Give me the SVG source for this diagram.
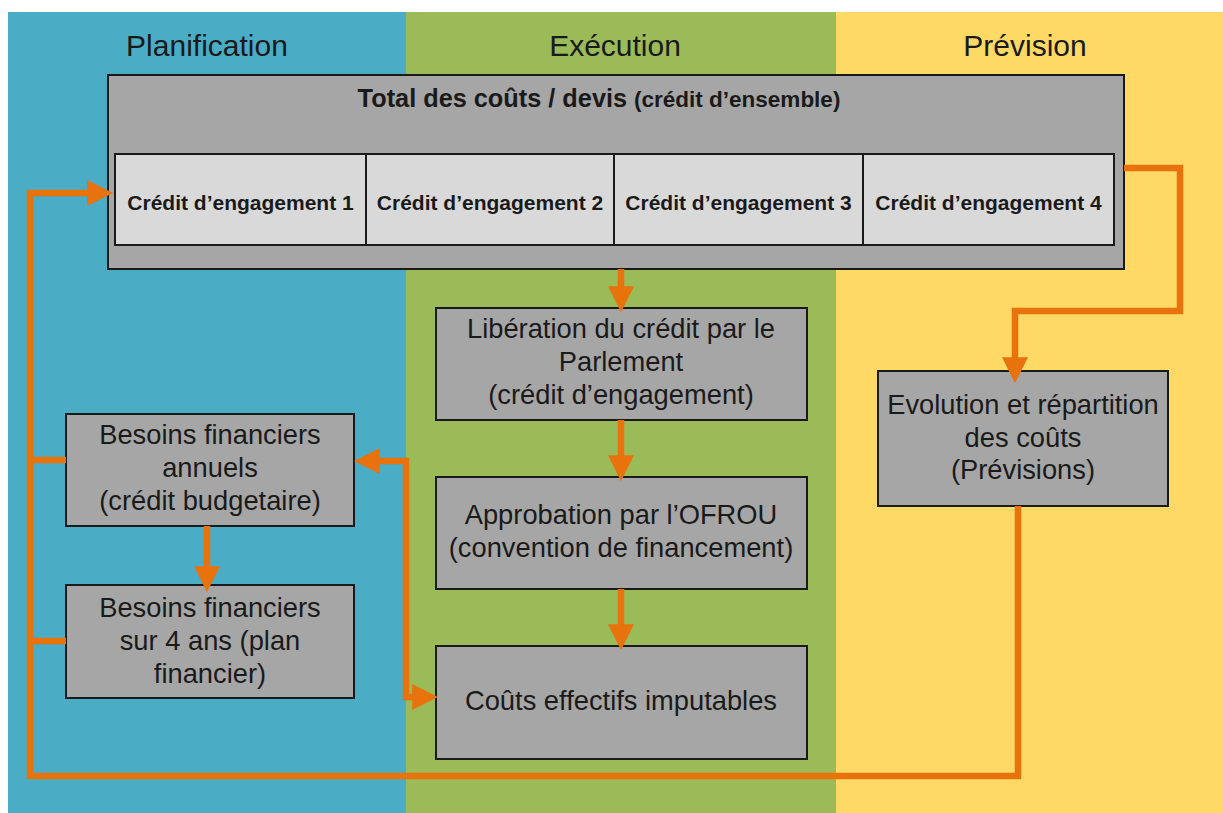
<svg xmlns="http://www.w3.org/2000/svg" width="1223" height="813" viewBox="0 0 1223 813">
<style>
text{font-family:"Liberation Sans",Arial,sans-serif;fill:#1a1a1a}
.h{font-size:30px;text-anchor:middle}
.box{fill:#a6a6a6;stroke:#1a1a1a;stroke-width:2}
.cell{fill:#d9d9d9;stroke:#1a1a1a;stroke-width:2}
.lbl{font-size:27.3px;text-anchor:middle}
.cl{font-size:21px;font-weight:bold;text-anchor:middle}
.con{fill:none;stroke:#e8720c;stroke-width:6.5;stroke-linejoin:miter}
</style>
<defs>
<marker id="ah" markerUnits="userSpaceOnUse" markerWidth="26" markerHeight="26" viewBox="0 0 24 24" refX="10" refY="12" orient="auto-start-reverse">
<path d="M0,0 L24,12 L0,24 z" fill="#e8720c"/>
</marker>
</defs>
<rect x="0" y="0" width="1223" height="813" fill="#ffffff"/>
<g id="lanes">
<rect x="8" y="12" width="398" height="801" fill="#4bacc6"/>
<rect x="406" y="12" width="430" height="801" fill="#9bbb59"/>
<rect x="836" y="12" width="387" height="801" fill="#ffd966"/>
<text class="h" x="207" y="56">Planification</text>
<text class="h" x="615" y="56">Exécution</text>
<text class="h" x="1025" y="56">Prévision</text>
</g>
<g id="total">
<rect class="box" x="108" y="75" width="1016" height="194"/>
<text x="599" y="107" style="font-weight:bold;text-anchor:middle"><tspan font-size="25.3">Total des coûts / devis </tspan><tspan font-size="22.5">(crédit d’ensemble)</tspan></text>
</g>
<g id="ce1"><rect class="cell" x="115" y="154" width="251" height="91"/><text class="cl" x="240.5" y="210">Crédit d’engagement 1</text></g>
<g id="ce2"><rect class="cell" x="366" y="154" width="248" height="91"/><text class="cl" x="490" y="210">Crédit d’engagement 2</text></g>
<g id="ce3"><rect class="cell" x="614" y="154" width="249" height="91"/><text class="cl" x="738.5" y="210">Crédit d’engagement 3</text></g>
<g id="ce4"><rect class="cell" x="863" y="154" width="251" height="91"/><text class="cl" x="988.5" y="210">Crédit d’engagement 4</text></g>
<g id="liberation">
<rect class="box" x="436" y="308" width="371" height="112"/>
<text class="lbl" x="621" y="338">Libération du crédit par le</text>
<text class="lbl" x="621" y="371">Parlement</text>
<text class="lbl" x="621" y="404">(crédit d’engagement)</text>
</g>
<g id="approbation">
<rect class="box" x="436" y="477" width="371" height="112"/>
<text class="lbl" x="621" y="524">Approbation par l’OFROU</text>
<text class="lbl" x="621" y="557">(convention de financement)</text>
</g>
<g id="couts">
<rect class="box" x="436" y="646" width="371" height="113"/>
<text class="lbl" x="621" y="710">Coûts effectifs imputables</text>
</g>
<g id="annuels">
<rect class="box" x="66" y="414" width="288" height="112"/>
<text class="lbl" x="210" y="444">Besoins financiers</text>
<text class="lbl" x="210" y="477">annuels</text>
<text class="lbl" x="210" y="510">(crédit budgetaire)</text>
</g>
<g id="quatreans">
<rect class="box" x="66" y="585" width="288" height="113"/>
<text class="lbl" x="210" y="617">Besoins financiers</text>
<text class="lbl" x="210" y="650">sur 4 ans (plan</text>
<text class="lbl" x="210" y="683">financier)</text>
</g>
<g id="evolution">
<rect class="box" x="878" y="371" width="290" height="135"/>
<text class="lbl" x="1023" y="414">Evolution et répartition</text>
<text class="lbl" x="1023" y="447">des coûts</text>
<text class="lbl" x="1023" y="479">(Prévisions)</text>
</g>
<g id="connectors">
<path class="con" d="M621,269 V297" marker-end="url(#ah)"/>
<path class="con" d="M621,420 V466" marker-end="url(#ah)"/>
<path class="con" d="M621,589 V635" marker-end="url(#ah)"/>
<path class="con" d="M207,526 V577" marker-end="url(#ah)"/>
<path class="con" d="M1124,168 H1180 V311 H1015 V368" marker-end="url(#ah)"/>
<path class="con" d="M1018,506 V776 H30 V193 H98" marker-end="url(#ah)"/>
<path class="con" d="M30,460 H66"/>
<path class="con" d="M30,641 H66"/>
<path class="con" d="M369,461 H406 V697 H423" marker-start="url(#ah)" marker-end="url(#ah)"/>
</g>
</svg>
